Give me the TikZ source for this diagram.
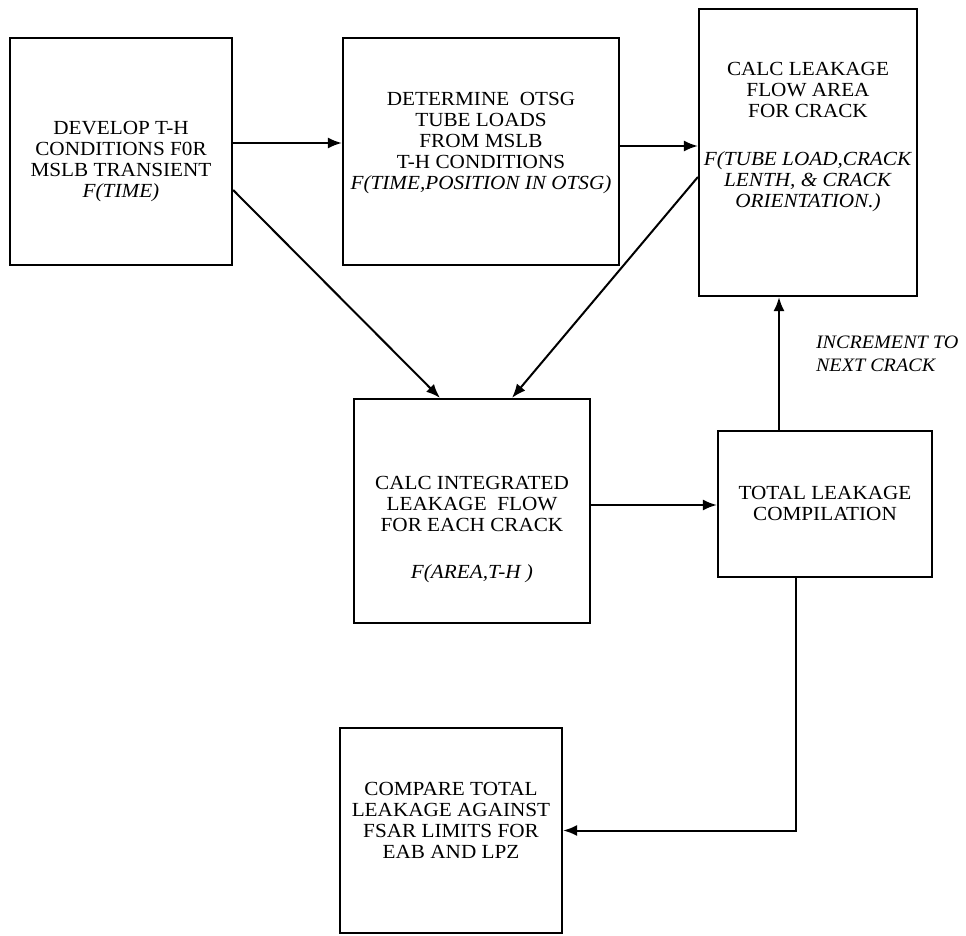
\documentclass[tikz,border=0pt]{standalone}
\usepackage{fontspec}
\setmainfont{Liberation Serif}[FakeStretch=1.06]
\usetikzlibrary{arrows.meta}
\tikzset{
  fc/.style={x=1pt,y=-1pt,line width=2pt,font=\fontsize{20}{21}\selectfont},
  stage/.style={draw,line width=2.2pt,inner sep=0pt},
  txt/.style={align=center,inner sep=0pt},
  flow/.style={-{Latex[length=14pt,width=11pt]},line width=2pt},
}

\begin{document}
\begin{tikzpicture}[fc]
  \useasboundingbox (0,0) rectangle (966,936);
  % boxes
  \node[stage,minimum width=222pt,minimum height=227pt] (develop) at (121,151.5) {};
  \node[stage,minimum width=276pt,minimum height=227pt] (determine) at (481,151.5) {};
  \node[stage,minimum width=218pt,minimum height=287pt] (area) at (808,152.5) {};
  \node[stage,minimum width=236pt,minimum height=224pt] (integrate) at (472,511) {};
  \node[stage,minimum width=214pt,minimum height=146pt] (total) at (825,504) {};
  \node[stage,minimum width=222pt,minimum height=205pt] (compare) at (451,830.5) {};
  % texts
  \node[txt] (developtxt) at (121,161.5) {DEVELOP T-H\\CONDITIONS F0R\\MSLB TRANSIENT\\\textit{F(TIME)}};
  \node[txt] (determinetxt) at (481,143.5) {DETERMINE\ \ OTSG\\TUBE LOADS\\FROM MSLB\\T-H CONDITIONS\\\textit{F(TIME,POSITION IN OTSG)}};
  \node[txt] (areatxt) at (808,137) {CALC LEAKAGE\\FLOW AREA\\FOR CRACK\\[27pt]\textit{F(TUBE LOAD,CRACK}\\\textit{LENTH, \& CRACK}\\\textit{ORIENTATION.)}};
  \node[txt] (integratetxt) at (472,530) {CALC INTEGRATED\\LEAKAGE\ \ FLOW\\FOR EACH CRACK\\[26pt]\textit{F(AREA,T-H )}};
  \node[txt] (totaltxt) at (825,503) {TOTAL LEAKAGE\\COMPILATION};
  \node[txt] (comparetxt) at (451,820) {COMPARE TOTAL\\LEAKAGE AGAINST\\FSAR LIMITS FOR\\EAB AND LPZ};
  \node[txt,align=left,anchor=west,font=\fontsize{19}{23}\selectfont\itshape] (incr) at (815,354) {INCREMENT TO\\NEXT CRACK};
  % connectors
  \draw[flow] ([yshift=8.5pt]develop.east) -- ([yshift=8.5pt]determine.west);
  \draw[flow] ([yshift=5.5pt]determine.east) -- ([yshift=5.5pt]determine.east -| area.west);
  \draw[flow] ([yshift=-38.5pt]develop.east) -- ([xshift=-32pt]integrate.north);
  \draw[flow] ([yshift=-24.5pt]area.west) -- ([xshift=40pt]integrate.north);
  \draw[flow] ([yshift=6pt]integrate.east) -- ([yshift=6pt]integrate.east -| total.west);
  \draw[flow] ([xshift=-46pt]total.north) -- ([xshift=-46pt]total.north |- area.south);
  \draw[flow] ([xshift=-29pt]total.south) |- (compare.east);
\end{tikzpicture}
\end{document}
